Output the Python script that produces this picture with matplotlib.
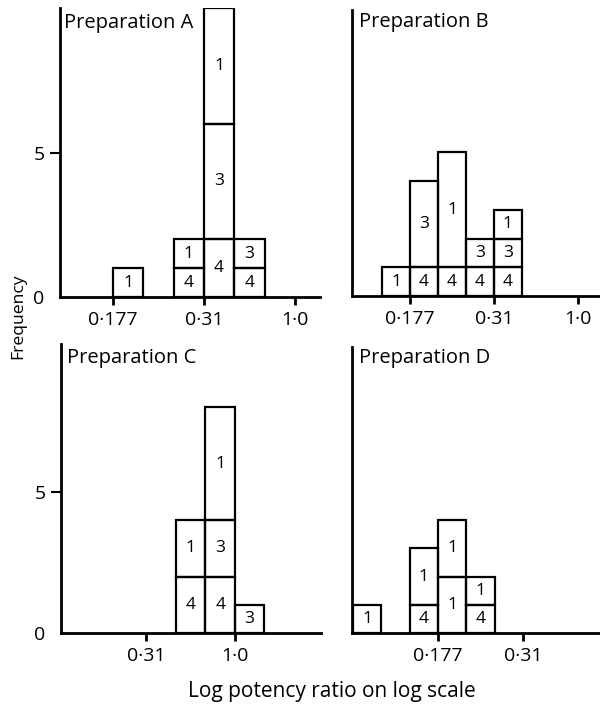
import matplotlib
matplotlib.use("Agg")
import matplotlib.pyplot as plt
import numpy as np

plt.rcParams['font.family'] = ['Open Sans', 'DejaVu Sans']

# ---- data: stacked boxes per panel (bin index, segment height, label) ----
titles = ["Preparation A", "Preparation B", "Preparation C", "Preparation D"]

A_bins = [0, 2, 2, 3, 3, 3, 4, 4]
A_counts = [1, 1, 1, 2, 4, 4, 1, 1]
A_labels = ["1", "4", "1", "4", "3", "1", "4", "3"]

B_bins = [-1, 0, 0, 1, 1, 2, 2, 3, 3, 3]
B_counts = [1, 1, 3, 1, 4, 1, 1, 1, 1, 1]
B_labels = ["1", "4", "3", "4", "1", "4", "3", "4", "3", "1"]

C_bins = [-2, -2, -1, -1, -1, 0]
C_counts = [2, 2, 2, 2, 4, 1]
C_labels = ["4", "1", "4", "3", "1", "3"]

D_bins = [-3, -1, -1, 0, 0, 1, 1]
D_counts = [1, 1, 2, 2, 2, 1, 1]
D_labels = ["1", "4", "1", "1", "1", "4", "1"]

A_ticks = [0, 3, 6]
A_ticklabels = ["0·177", "0·31", "1·0"]
B_ticks = [0, 3, 6]
B_ticklabels = ["0·177", "0·31", "1·0"]
C_ticks = [-3, 0]
C_ticklabels = ["0·31", "1·0"]
D_ticks = [0, 3]
D_ticklabels = ["0·177", "0·31"]

y_ticks = [0, 5]

panels = [
    (A_bins, A_counts, A_labels, A_ticks, A_ticklabels),
    (B_bins, B_counts, B_labels, B_ticks, B_ticklabels),
    (C_bins, C_counts, C_labels, C_ticks, C_ticklabels),
    (D_bins, D_counts, D_labels, D_ticks, D_ticklabels),
]

# layout (figure fractions) and axis limits
rects = [
    [60 / 600, 1 - 297 / 704, 260 / 600, 289 / 704],
    [352 / 600, 1 - 296 / 704, 248 / 600, 286 / 704],
    [61 / 600, 1 - 633 / 704, 260 / 600, 289 / 704],
    [352 / 600, 1 - 633 / 704, 248 / 600, 286 / 704],
]
xlims = [(-1.75, 6.83), (-2.07, 6.79), (-5.9, 2.92), (-3.03, 5.7)]
ylims = [(0, 10.0), (0, 9.95), (0, 10.25), (0, 10.15)]
title_offsets_px = [(4, -20), (7, -17), (6, -19), (7, -16)]

fig = plt.figure(figsize=(6.0, 7.04), dpi=100)
PX = 72 / 100.0

for i, (bins, counts, labels, ticks, ticklabels) in enumerate(panels):
    ax = fig.add_axes(rects[i])
    stack = {}
    for b, c, lab in zip(bins, counts, labels):
        bottom = stack.get(b, 0)
        ax.bar(b, c, bottom=bottom, width=1.0, align='edge', fill=False,
               edgecolor='black', linewidth=1.6)
        ax.text(b + 0.5, bottom + c / 2, lab, ha='center', va='center',
                fontsize=12.5, color='black')
        stack[b] = bottom + c
    ax.set_xlim(*xlims[i])
    ax.set_ylim(*ylims[i])
    for s in ['top', 'right']:
        ax.spines[s].set_visible(False)
    for s in ['left', 'bottom']:
        ax.spines[s].set_linewidth(2.0)
    ax.set_xticks(ticks)
    ax.set_xticklabels(ticklabels, fontsize=14)
    ax.tick_params(axis='x', direction='out', length=6, width=2.0, pad=4)
    if i in (0, 2):
        ax.set_yticks(y_ticks)
        ax.set_yticklabels([str(v) for v in y_ticks], fontsize=14)
        ax.tick_params(axis='y', direction='out', length=7, width=1.5, pad=4)
        ax.yaxis.get_major_ticks()[0].tick1line.set_visible(False)
    else:
        ax.set_yticks([])
    dx, dy = title_offsets_px[i]
    ax.annotate(titles[i], xy=(0, 1), xycoords='axes fraction',
                xytext=(dx * PX, dy * PX), textcoords='offset points',
                ha='left', va='baseline', fontsize=14.5)
    ax.patch.set_visible(False)

fig.text(0.03, 0.551, "Frequency", rotation=90, ha='center', va='center', fontsize=12.6)
fig.text(332 / 600, 1 - 697 / 704, "Log potency ratio on log scale", ha='center',
         va='baseline', fontsize=15)

fig.savefig("out.png", dpi=100)
